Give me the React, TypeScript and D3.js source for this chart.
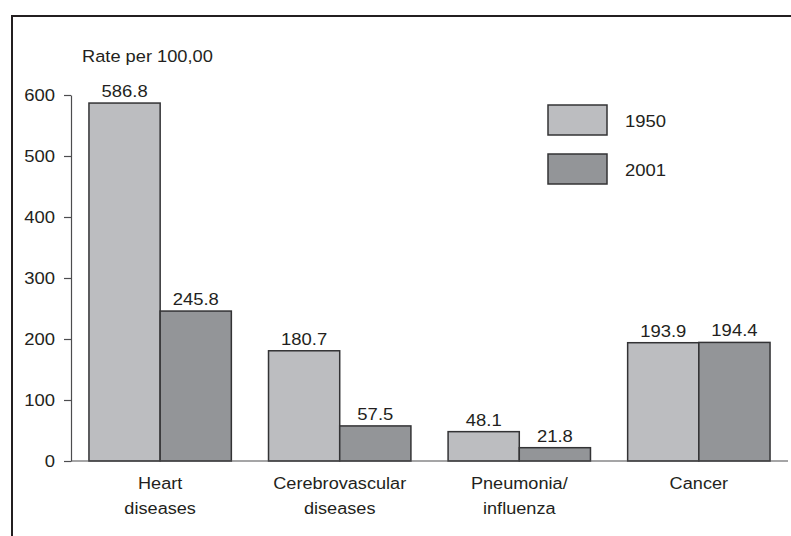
import React, { useRef, useEffect } from "react";
import * as d3 from "d3";

// chart data
const categories = ["Heart|diseases", "Cerebrovascular|diseases", "Pneumonia/|influenza", "Cancer"];
const years = ["1950", "2001"];
const rates1950 = [586.8, 180.7, 48.1, 193.9];
const rates2001 = [245.8, 57.5, 21.8, 194.4];
const yTicks = [0, 100, 200, 300, 400, 500, 600];
const yLabel = "Rate per 100,00";

const colors = ["#bcbdc0", "#939598"];
const FONT = "'Liberation Sans', Arial, sans-serif";
const SX = 1.12; // the original type is a little wide

const App = () => {
  const svgRef = useRef(null);

  useEffect(() => {
    const svg = d3.select(svgRef.current);
    svg.selectAll("*").remove();

    const left = 71;
    const right = 788;
    const top = 95;
    const bottom = 461;

    // frame (only top and left edges are visible)
    svg.append("path")
      .attr("d", "M12,536 V16 H791")
      .attr("fill", "none")
      .attr("stroke", "#231f20")
      .attr("stroke-width", 2);

    const x = d3.scaleBand().domain(categories).range([left, right]).paddingInner(0.207).paddingOuter(0.1);
    const xSub = d3.scaleBand().domain(years).range([0, x.bandwidth()]);
    const y = d3.scaleLinear().domain([0, 600]).range([bottom, top]);

    const g = svg.append("g").style("font-family", FONT).style("fill", "#231f20");

    const label = (tx, ty, str, anchor = "start", size = 16.5) =>
      g.append("text")
        .attr("transform", "translate(" + tx + "," + ty + ") scale(" + SX + ",1)")
        .attr("text-anchor", anchor)
        .style("font-size", size + "px")
        .text(str);

    // y axis
    const yAxis = g.append("g")
      .attr("transform", "translate(" + left + ",0)")
      .call(d3.axisLeft(y).tickValues(yTicks).tickSize(7).tickSizeOuter(0));
    yAxis.selectAll("text").remove();
    yAxis.selectAll("line, path").attr("stroke", "#4d4d4f").attr("stroke-width", 1.2);
    yTicks.forEach((t) => label(left - 16, y(t) + 6, String(t), "end"));

    label(82, 62, yLabel, "start", 16.3);

    // bars
    const series = [rates1950, rates2001];
    categories.forEach((c, i) => {
      years.forEach((yr, j) => {
        const v = series[j][i];
        const bx = x(c) + xSub(yr);
        g.append("rect")
          .attr("x", bx)
          .attr("y", y(v))
          .attr("width", xSub.bandwidth())
          .attr("height", y(0) - y(v))
          .attr("fill", colors[j])
          .attr("stroke", "#333335")
          .attr("stroke-width", 1.5);
        label(bx + xSub.bandwidth() / 2, y(v) - 6, v.toFixed(1), "middle");
      });
      // category label, two lines
      c.split("|").forEach((part, k) => {
        label(x(c) + x.bandwidth() / 2, 489 + k * 25, part, "middle", 16.2);
      });
    });

    // x axis line
    g.append("line")
      .attr("x1", left)
      .attr("x2", right)
      .attr("y1", bottom)
      .attr("y2", bottom)
      .attr("stroke", "#4d4d4f")
      .attr("stroke-width", 1.2);

    // legend
    years.forEach((yr, j) => {
      const ly = 105 + j * 49;
      g.append("rect")
        .attr("x", 548)
        .attr("y", ly)
        .attr("width", 59)
        .attr("height", 30)
        .attr("fill", colors[j])
        .attr("stroke", "#333335")
        .attr("stroke-width", 1.5);
      label(625, ly + 22, yr);
    });
  }, []);

  return (
    <svg ref={svgRef} width={791} height={536} style={{ position: "absolute", left: 0, top: 0, background: "#fff" }} />
  );
};

export default App;
